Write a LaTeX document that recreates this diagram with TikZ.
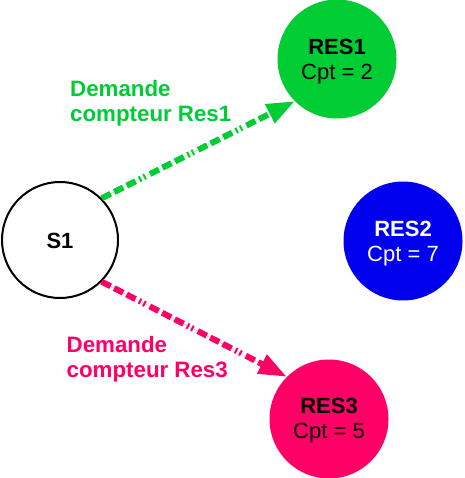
\documentclass[tikz,border=0pt]{standalone}
\usepackage{fontspec}
\setmainfont{Liberation Sans}
\usetikzlibrary{arrows.meta}
\definecolor{resgreen}{HTML}{00CC33}
\definecolor{respink}{HTML}{FF0066}
\definecolor{resblue}{HTML}{0000EE}
\begin{document}
\begin{tikzpicture}[x=1pt,y=-1pt,
  res/.style={circle, inner sep=0pt, minimum size=119pt, draw=none},
  srv/.style={circle, inner sep=0pt, minimum size=116pt, draw=black, line width=2pt, fill=white},
  restext/.style={inner sep=0pt, align=center, font=\fontsize{22}{25}\selectfont},
  lbl/.style={inner sep=0pt, anchor=base west, font=\fontsize{22.3}{25}\selectfont\bfseries},
  req/.style={line width=6pt,
    dash pattern=on 10pt off 4pt on 10pt off 4pt on 10pt off 4pt on 2pt off 3pt on 2pt off 5pt,
    -{Triangle[length=28pt,width=20pt]}}
]
\useasboundingbox (0,0) rectangle (464,478);

\node[srv] (s1) at (60,240) {};
\node[restext, font=\fontsize{22}{25}\selectfont\bfseries] (s1t) at (60,241) {S1};

\node[res, fill=resgreen] (res1) at (337,59) {};
\node[restext] (res1t) at (337,62) {\textbf{RES1}\\Cpt = 2};

\node[res, fill=resblue] (res2) at (403,241) {};
\node[restext, text=white] (res2t) at (403,243.5) {\textbf{RES2}\\Cpt = 7};

\node[res, fill=respink] (res3) at (329,419) {};
\node[restext] (res3t) at (329,421) {\textbf{RES3}\\Cpt = 5};

\draw[req, draw=resgreen, fill=resgreen] (s1.north east) -- (res1.south west);
\draw[req, draw=respink, fill=respink] (s1.south east) -- (res3.north west);

\node[lbl, text=resgreen] (l1) at (70,97) {\begin{tabular}[t]{@{}l@{}}Demande\\compteur Res1\end{tabular}};
\node[lbl, text=respink] (l3) at (66.5,352) {\begin{tabular}[t]{@{}l@{}}Demande\\compteur Res3\end{tabular}};
\end{tikzpicture}
\end{document}
